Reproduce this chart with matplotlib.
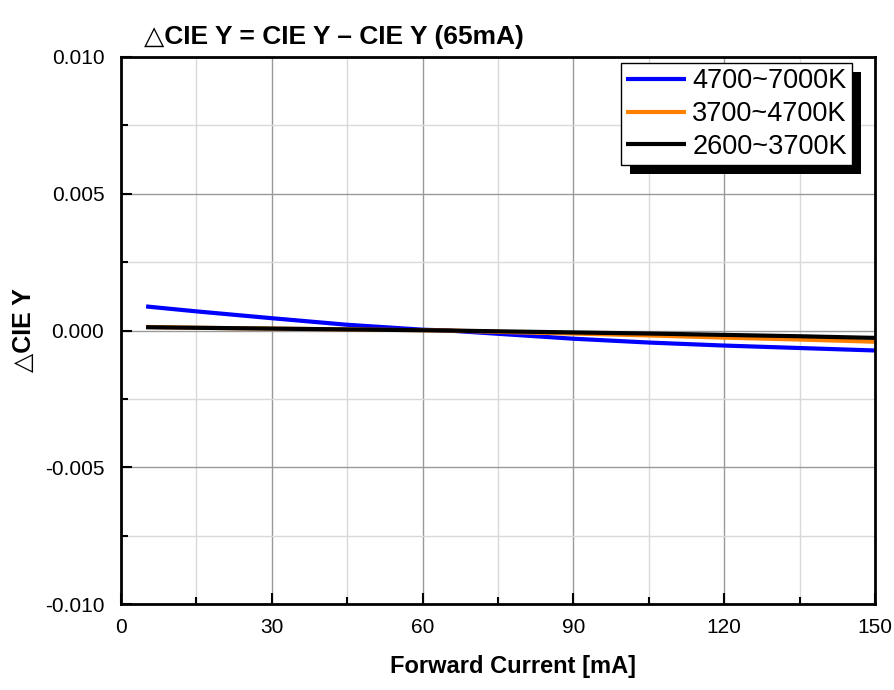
import numpy as np
import matplotlib
matplotlib.use("Agg")
import matplotlib.pyplot as plt
from matplotlib.ticker import MultipleLocator, FormatStrFormatter
import matplotlib.patheffects as pe

plt.rcParams['font.family'] = ['Liberation Sans', 'DejaVu Sans']
plt.rcParams['axes.unicode_minus'] = False

# Forward current sweep and CIE Y shift relative to 65 mA
current = [5, 15, 30, 45, 60, 65, 75, 90, 105, 120, 135, 150]
dy_4700_7000 = [0.00088, 0.00070, 0.00045, 0.00021, 0.00003, 0.0, -0.00012,
                -0.00030, -0.00044, -0.00055, -0.00064, -0.00073]
dy_3700_4700 = [0.00013, 0.00010, 0.00007, 0.00004, 0.00001, 0.0, -0.00005,
                -0.00011, -0.00018, -0.00026, -0.00033, -0.00041]
dy_2600_3700 = [0.00012, 0.00010, 0.00007, 0.00004, 0.00001, 0.0, -0.00003,
                -0.00007, -0.00011, -0.00016, -0.00021, -0.00027]
labels = ['4700~7000K', '3700~4700K', '2600~3700K']
colors = ['#0000ff', '#ff8000', '#000000']

fig = plt.figure(figsize=(8.94, 6.90), dpi=100)
ax = fig.add_axes([0.1353, 0.1246, 0.8434, 0.7928])

for ys, lab, c in zip([dy_4700_7000, dy_3700_4700, dy_2600_3700], labels, colors):
    ax.plot(current, ys, color=c, lw=3, label=lab, solid_capstyle='butt')

ax.set_xlim(0, 150)
ax.set_ylim(-0.010, 0.010)
ax.xaxis.set_major_locator(MultipleLocator(30))
ax.xaxis.set_minor_locator(MultipleLocator(15))
ax.yaxis.set_major_locator(MultipleLocator(0.005))
ax.yaxis.set_minor_locator(MultipleLocator(0.0025))
ax.yaxis.set_major_formatter(FormatStrFormatter('%.3f'))

ax.grid(which='major', color='#999999', lw=1)
ax.grid(which='minor', color='#d9d9d9', lw=1)
ax.set_axisbelow(True)

ax.tick_params(which='both', direction='in', top=False, right=False, labelsize=15, width=1.5)
ax.tick_params(which='major', length=8)
ax.tick_params(axis='x', which='major', pad=10)
ax.tick_params(axis='y', which='major', pad=12)
ax.tick_params(which='minor', length=5)
for s in ax.spines.values():
    s.set_linewidth(2)

ax.set_xlabel('Forward Current [mA]', fontsize=17, fontweight='bold')
ax.xaxis.set_label_coords(0.52, -0.093)
ax.set_ylabel('\u25b3CIE Y', fontsize=18, fontweight='bold')
ax.yaxis.set_label_coords(-0.113, 0.5)
ax.set_title('\u25b3CIE Y = CIE Y \u2013 CIE Y (65mA)', fontsize=19, fontweight='bold',
             loc='left', x=0.03, pad=9)

leg = ax.legend(loc='upper right', bbox_to_anchor=(0.97, 0.989), fontsize=19.5,
                frameon=True, fancybox=False, framealpha=1, borderpad=0.2, labelspacing=0.25,
                handlelength=2.2, handletextpad=0.25, borderaxespad=0)
frame = leg.get_frame()
frame.set_edgecolor('black')
frame.set_linewidth(1)
frame.set_path_effects([pe.SimplePatchShadow(offset=(6.5, -6.5), shadow_rgbFace='black', alpha=1),
                        pe.Normal()])
for line in leg.get_lines():
    line.set_linewidth(3)

fig.savefig('out.png', dpi=100)
